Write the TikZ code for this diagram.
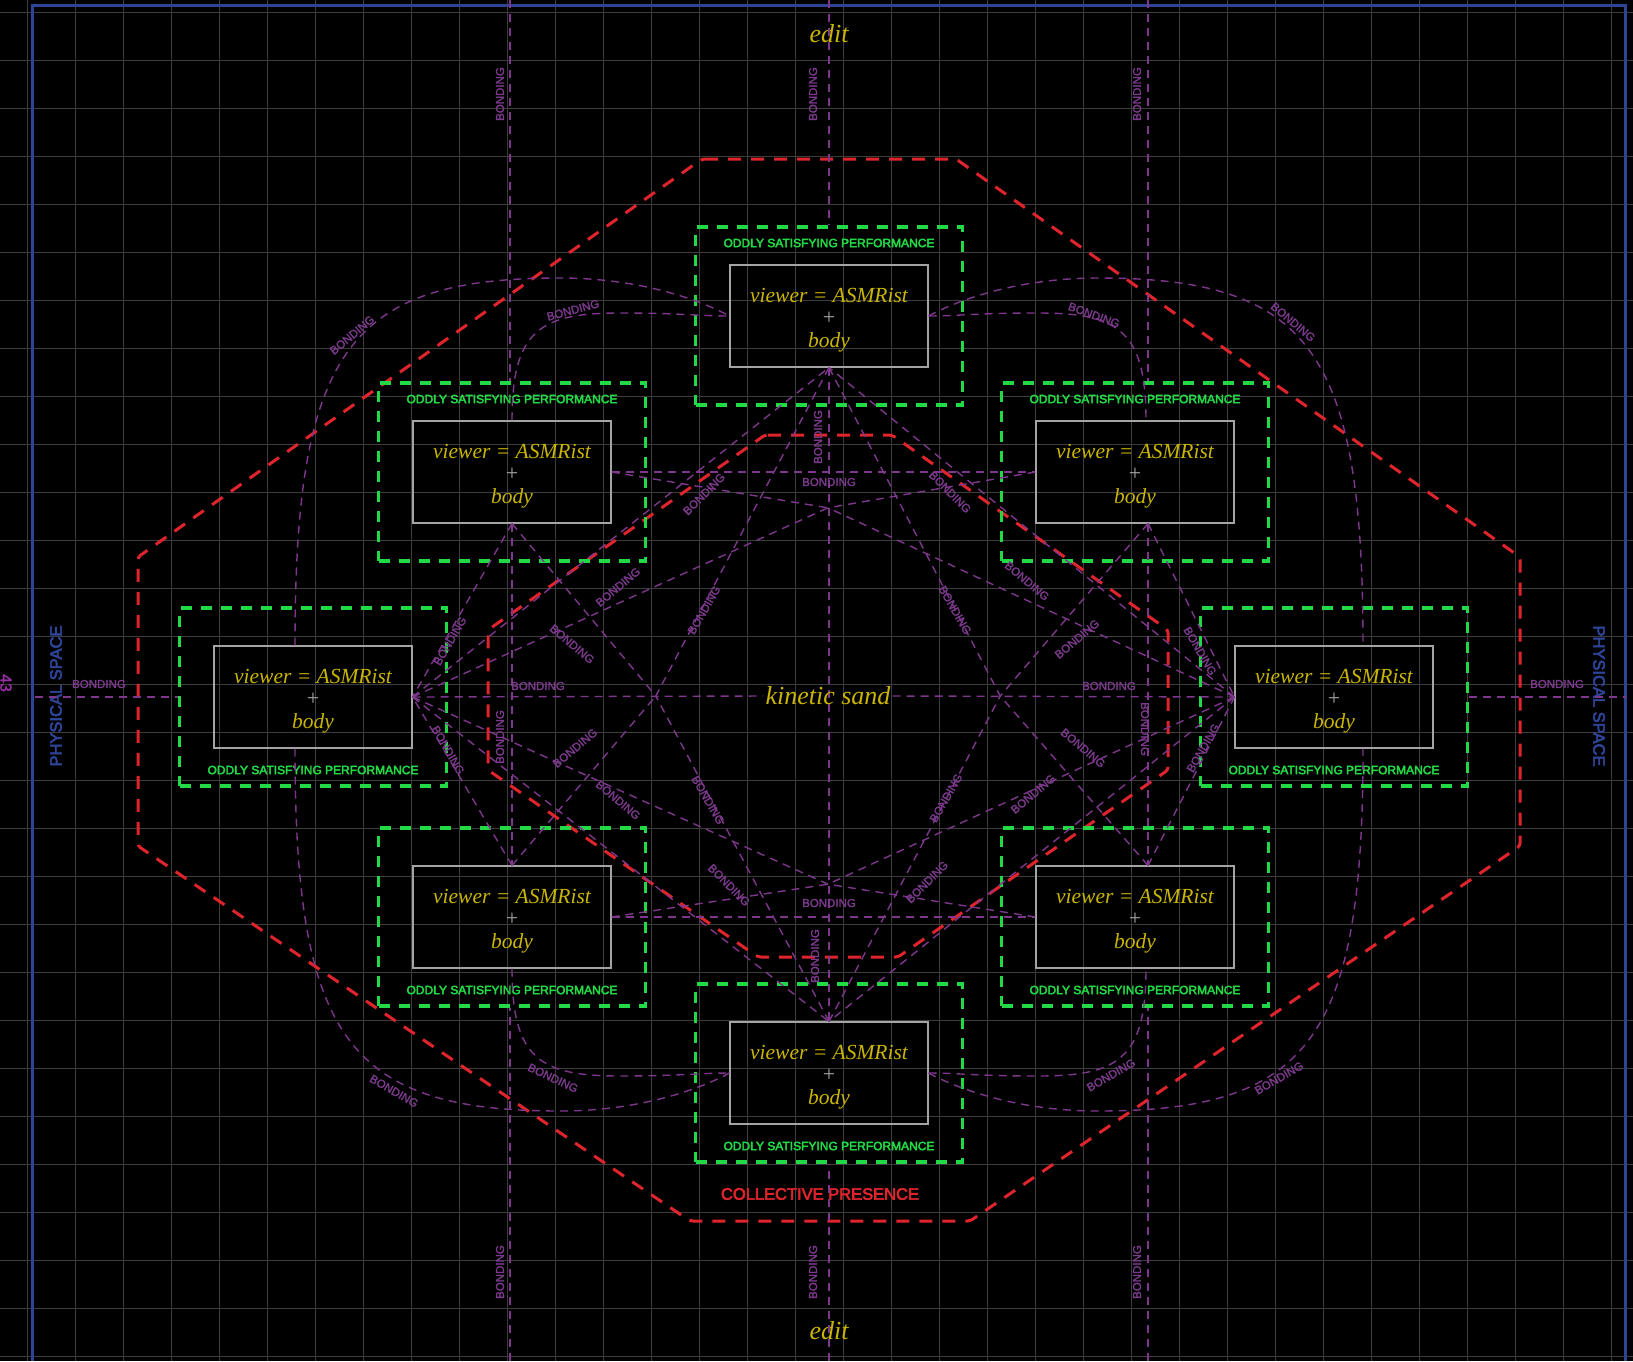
\documentclass[tikz,border=0pt]{standalone}
\usepackage{fontspec}
\setmainfont{Liberation Serif}
\setsansfont{Liberation Sans}
\newfontfamily\heavysf{Liberation Sans}[FakeBold=3.5]
\newfontfamily\halfsf{Liberation Sans}[FakeBold=2]
\usetikzlibrary{shapes.geometric}

\definecolor{gridgray}{HTML}{3D3D3D}
\definecolor{frameblue}{HTML}{2E4497}
\definecolor{presred}{HTML}{E0242C}
\definecolor{perfgreen}{HTML}{22DA45}
\definecolor{bondpurple}{HTML}{7E378C}
\definecolor{bondtext}{HTML}{7C3A8C}
\definecolor{sandyellow}{HTML}{C9B500}
\definecolor{boxgray}{HTML}{A4A4A4}

\begin{document}
\begin{tikzpicture}[x=1pt, y=-1pt,
    viewer/.style={draw=boxgray, line width=1.1, minimum width=198, minimum height=102, inner sep=0},
    viewtxt/.style={align=center, text=sandyellow, inner sep=0, font=\itshape\fontsize{21.5}{22.5}\selectfont},
    perf/.style={draw=perfgreen, line width=3.2, dash pattern=on 11 off 9, minimum width=267, minimum height=178, inner sep=0},
    perflbl/.style={text=perfgreen, font=\heavysf\fontsize{12}{14}\selectfont, inner sep=0},
    presence/.style={draw=presred, line width=3, dash pattern=on 13 off 10, rounded corners=3},
    bond/.style={draw=bondpurple, line width=1.4, dash pattern=on 8 off 6},
    lbl/.style={text=bondtext, font=\halfsf\fontsize{11.5}{12}\selectfont, inner sep=0},
    sandtxt/.style={text=sandyellow, font=\itshape\fontsize{26}{28}\selectfont, inner sep=2},
    space/.style={text=frameblue, font=\heavysf\fontsize{16.5}{18}\selectfont, inner sep=0}
  ]
  \useasboundingbox (0,0) rectangle (1633,1361);
  \fill[black] (0,0) rectangle (1633,1361);

  % grid
  \foreach \gx in {0,...,33}
    \draw[gridgray, line width=1.1] (27.7+48*\gx,0) -- (27.7+48*\gx,1361);
  \foreach \gy in {0,...,28}
    \draw[gridgray, line width=1.1] (0,12.3+48*\gy) -- (1633,12.3+48*\gy);

  % physical space frame
  \draw[frameblue, line width=3] (32,1361) -- (32,5) -- (1625,5) -- (1625,1361);
  \node[space, rotate=90] (spaceW) at (56,696) {PHYSICAL SPACE};
  \node[space, rotate=-90] (spaceE) at (1599,696) {PHYSICAL SPACE};
  \node[text=bondtext!80!magenta, font=\halfsf\fontsize{16}{18}\selectfont, rotate=-90, inner sep=0] (cut) at (6,683) {43};

  % collective presence
  \draw[presence] (702,159) -- (956,159) -- (1520,557) -- (1520,846) -- (970,1221) -- (690,1221)
    -- (138,846) -- (138,557) -- cycle;
  \node[text=presred, font=\heavysf\fontsize{16.5}{18}\selectfont, inner sep=0] (presence) at (820,1194) {COLLECTIVE PRESENCE};
  \draw[presence] (765,435) -- (892,435) -- (1168,630) -- (1168,770) -- (898,957) -- (758,957)
    -- (488,770) -- (488,630) -- cycle;

  % performances
  \foreach \n/\x/\y/\s in {T/829/316/-73, UL/512/472/-73, UR/1135/472/-73, L/313/697/73,
      R/1334/697/73, LL/512/917/73, LR/1135/917/73, B/829/1073/73}{
    \node[perf] (\n-g) at (\x,\y) {};
    \node[perflbl] (\n-t) at (\x,{\y+\s}) {ODDLY SATISFYING PERFORMANCE};
    \node[viewer] (\n) at (\x,\y) {};
    \node[viewtxt] (\n-v) at (\x,{\y+4}) {viewer = ASMRist\\{\upshape\color{boxgray}\fontsize{22}{22.5}\selectfont +}\\body};
  }

  \node[ellipse, minimum width=344, minimum height=376, inner sep=0] (sand) at (828,696) {};
  \node[sandtxt] (edit1) at (829,34) {edit};
  \node[sandtxt] (edit2) at (829,1331) {edit};

  \coordinate (topA) at (510,0);
  \coordinate (topB) at (829,0);
  \coordinate (topC) at (1148,0);
  \coordinate (botA) at (510,1361);
  \coordinate (botB) at (829,1361);
  \coordinate (botC) at (1148,1361);
  \coordinate (westEnd) at (35,697);
  \coordinate (eastEnd) at (1626,697);

  % bonding, outside
  \draw[bond] (topA) -- (topA |- UL-g.north);
  \draw[bond] (topB) -- (T-g.north);
  \draw[bond] (topC) -- (topC |- UR-g.north);
  \draw[bond] (botA) -- (botA |- LL-g.south);
  \draw[bond] (botB) -- (B-g.south);
  \draw[bond] (botC) -- (botC |- LR-g.south);
  \draw[bond] (westEnd) -- (L-g.west);
  \draw[bond] (R-g.east) -- (eastEnd);

  % bonding, arcs
  \draw[bond] ([xshift=-18]L.north) .. controls (295,351) and (348,278) .. (560,278)
    .. controls (640,278) and (700,300) .. (T.west);
  \draw[bond] (UL.north) .. controls (512,330) and (540,313) .. (620,313)
    .. controls (680,313) and (700,316) .. (T.west);
  \draw[bond] (T.east) .. controls (958,316) and (978,313) .. (1038,313)
    .. controls (1118,313) and (1146,330) .. ([xshift=11]UR.north);
  \draw[bond] (T.east) .. controls (958,300) and (1018,278) .. (1098,278)
    .. controls (1310,278) and (1363,351) .. ([xshift=29]R.north);
  \draw[bond] ([xshift=-18]L.south) .. controls (295,1038) and (348,1111) .. (560,1111)
    .. controls (640,1111) and (700,1089) .. (B.west);
  \draw[bond] (LL.south) .. controls (512,1059) and (540,1076) .. (620,1076)
    .. controls (680,1076) and (700,1073) .. (B.west);
  \draw[bond] (B.east) .. controls (958,1073) and (978,1076) .. (1038,1076)
    .. controls (1118,1076) and (1146,1059) .. ([xshift=11]LR.south);
  \draw[bond] (B.east) .. controls (958,1089) and (1018,1111) .. (1098,1111)
    .. controls (1310,1111) and (1363,1038) .. ([xshift=29]R.south);

  % bonding, inside
  \draw[bond] (T.south) -- (B.north);
  \draw[bond] (UL.south) -- (LL.north);
  \draw[bond] ([xshift=13]UR.south) -- ([xshift=13]LR.north);
  \draw[bond] (UL.east) -- (UR.west);
  \draw[bond] (LL.east) -- (LR.west);
  \draw[bond] (T.south) -- (sand.west);
  \draw[bond] (T.south) -- (sand.east);
  \draw[bond] (B.north) -- (sand.west);
  \draw[bond] (B.north) -- (sand.east);
  \draw[bond] (UL.south) -- (sand.west);
  \draw[bond] ([xshift=13]UR.south) -- (sand.east);
  \draw[bond] (LL.north) -- (sand.west);
  \draw[bond] ([xshift=13]LR.north) -- (sand.east);
  \draw[bond] (L.east) -- (sand.north);
  \draw[bond] (L.east) -- (sand.south);
  \draw[bond] (R.west) -- (sand.north);
  \draw[bond] (R.west) -- (sand.south);
  \draw[bond] (UL.east) -- (sand.north);
  \draw[bond] (UR.west) -- (sand.north);
  \draw[bond] (LL.east) -- (sand.south);
  \draw[bond] (LR.west) -- (sand.south);
  \draw[bond] (L.east) -- (T.south);
  \draw[bond] (R.west) -- (T.south);
  \draw[bond] (L.east) -- (B.north);
  \draw[bond] (R.west) -- (B.north);
  \draw[bond] (UL.south) -- (L.east);
  \draw[bond] (LL.north) -- (L.east);
  \draw[bond] ([xshift=13]UR.south) -- (R.west);
  \draw[bond] ([xshift=13]LR.north) -- (R.west);

  \node[sandtxt] (kin) at (828,696) {kinetic sand};
  \draw[bond] (L.east) -- (kin.west);
  \draw[bond] (kin.east) -- (R.west);

  % labels
  \foreach \lx/\ly/\lr [count=\i] in {500/94/90, 813/94/90, 1137/94/90, 500/1272/90, 813/1272/90,
      1137/1272/90, 99/684/0, 1557/684/0, 352/335/40, 573/310/15, 1094/315/-20, 1293/322/-40,
      394/1091/-30, 553/1078/-25, 1111/1075/30, 1279/1078/30, 818/437/90, 829/482/0, 704/494/45,
      950/492/-45, 618/587/40, 704/610/60, 572/644/-40, 450/641/60, 538/686/0, 500/737/90,
      448/750/-60, 575/748/40, 618/800/-40, 708/800/-60, 729/885/-45, 829/903/0, 815/956/90,
      927/882/45, 946/798/60, 1033/794/40, 1083/748/-40, 1145/729/-90, 1109/686/0, 1077/639/40,
      1027/581/-40, 955/610/-60, 1200/651/-60, 1203/748/60}
    \node[lbl, rotate=\lr] (bond\i) at (\lx,\ly) {BONDING};
\end{tikzpicture}
\end{document}
